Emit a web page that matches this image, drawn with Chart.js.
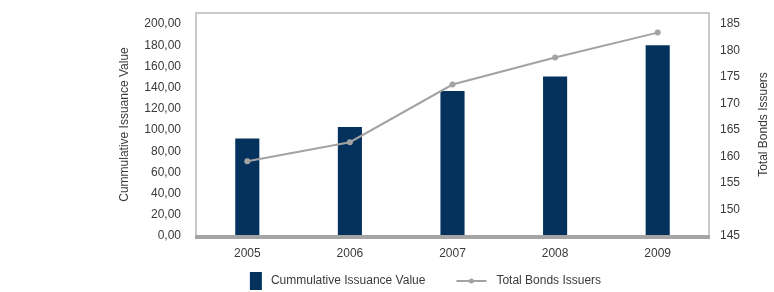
<!DOCTYPE html>
<html>
<head>
<meta charset="utf-8">
<script src="https://cdn.jsdelivr.net/npm/chart.js@4"></script>
<style>
  html, body { margin: 0; padding: 0; background: #fff; }
  #wrap { width: 774px; height: 292px; position: relative; }
</style>
</head>
<body>
<div id="wrap"><canvas id="chart"></canvas></div>
<script>
// chart data
const years = ['2005', '2006', '2007', '2008', '2009'];
const issuanceValue = [92, 102.8, 136.8, 150.5, 180];
const bondIssuers = [159.1, 162.7, 173.6, 178.7, 183.4];
const leftTicks = [0, 20, 40, 60, 80, 100, 120, 140, 160, 180, 200];
const rightTicks = [145, 150, 155, 160, 165, 170, 175, 180, 185];

const NAVY = '#04325d';
const GREY_LINE = '#a3a3a3';
const TEXT = '#3a3a3a';
const FONT = { family: "'Liberation Sans', Arial, sans-serif", size: 12 };
const BAR_LABEL = 'Cummulative Issuance Value';
const LINE_LABEL = 'Total Bonds Issuers';

Chart.defaults.font = FONT;
Chart.defaults.color = TEXT;

// frame round the plot area + thick base line
const framePlugin = {
  id: 'frame',
  beforeDatasetsDraw(chart) {
    const { ctx, chartArea: a } = chart;
    ctx.save();
    ctx.strokeStyle = '#c9c9c9';
    ctx.lineWidth = 2;
    ctx.strokeRect(a.left, a.top, a.right - a.left, a.bottom - a.top);
    ctx.restore();
  },
  afterDatasetsDraw(chart) {
    const { ctx, chartArea: a } = chart;
    ctx.save();
    ctx.strokeStyle = '#a5a5a5';
    ctx.lineWidth = 4;
    ctx.beginPath();
    ctx.moveTo(a.left - 1, a.bottom + 1);
    ctx.lineTo(a.right + 1, a.bottom + 1);
    ctx.stroke();
    ctx.restore();
  }
};

// right axis title (reads bottom-to-top) and legend below the axis
const extrasPlugin = {
  id: 'extras',
  afterDraw(chart) {
    const { ctx, chartArea: a } = chart;
    ctx.save();
    ctx.font = `${FONT.size}px ${FONT.family}`;
    ctx.fillStyle = TEXT;
    ctx.textAlign = 'center';
    ctx.textBaseline = 'middle';
    ctx.translate(764, (a.top + a.bottom) / 2);
    ctx.rotate(-Math.PI / 2);
    ctx.fillText(LINE_LABEL, 0, 0);
    ctx.restore();

    const y = 281;
    ctx.save();
    ctx.font = `${FONT.size}px ${FONT.family}`;
    ctx.textBaseline = 'middle';
    ctx.textAlign = 'left';
    const w1 = 12 + 9 + ctx.measureText(BAR_LABEL).width;
    const w2 = 30 + 10 + ctx.measureText(LINE_LABEL).width;
    const gap = 31;
    let x = (a.left + a.right) / 2 - 27 - (w1 + gap + w2) / 2;
    ctx.fillStyle = NAVY;
    ctx.fillRect(x, y - 9, 12, 18);
    ctx.fillStyle = TEXT;
    ctx.fillText(BAR_LABEL, x + 21, y);
    x += w1 + gap;
    ctx.strokeStyle = GREY_LINE;
    ctx.lineWidth = 2;
    ctx.beginPath();
    ctx.moveTo(x, y);
    ctx.lineTo(x + 30, y);
    ctx.stroke();
    ctx.fillStyle = GREY_LINE;
    ctx.beginPath();
    ctx.arc(x + 15, y, 2.5, 0, Math.PI * 2);
    ctx.fill();
    ctx.fillStyle = TEXT;
    ctx.fillText(LINE_LABEL, x + 40, y);
    ctx.restore();
  }
};

const fmtComma = v => v.toFixed(2).replace('.', ',');

new Chart(document.getElementById('chart'), {
  data: {
    labels: years,
    datasets: [
      {
        type: 'line',
        label: LINE_LABEL,
        data: bondIssuers,
        yAxisID: 'y1',
        borderColor: GREY_LINE,
        backgroundColor: GREY_LINE,
        borderWidth: 2,
        pointRadius: 3,
        pointBackgroundColor: GREY_LINE,
        pointBorderWidth: 0,
        tension: 0,
        order: 0
      },
      {
        type: 'bar',
        label: BAR_LABEL,
        data: issuanceValue,
        yAxisID: 'y',
        backgroundColor: NAVY,
        barPercentage: 0.235,
        categoryPercentage: 1,
        order: 1
      }
    ]
  },
  options: {
    responsive: true,
    maintainAspectRatio: false,
    animation: false,
    layout: { padding: { left: 113, right: 0, top: 13, bottom: 28 } },
    plugins: { legend: { display: false }, tooltip: { enabled: false } },
    scales: {
      x: {
        grid: { display: false, drawTicks: false },
        border: { display: false },
        ticks: { padding: 10, font: FONT, color: TEXT },
        afterFit(s) { s.height = 28; }
      },
      y: {
        position: 'left',
        min: 0,
        max: 210.4,
        grid: { display: false, drawTicks: false },
        border: { display: false },
        afterBuildTicks(s) { s.ticks = leftTicks.map(v => ({ value: v })); },
        ticks: { padding: 15, callback: v => fmtComma(v) },
        title: { display: true, text: BAR_LABEL, font: FONT, color: TEXT, padding: { top: 4, bottom: 4 } },
        afterFit(s) { s.width = 83; s.paddingTop = 0; s.paddingBottom = 0; }
      },
      y1: {
        position: 'right',
        min: 145,
        max: 187.1,
        grid: { display: false, drawTicks: false },
        border: { display: false },
        afterBuildTicks(s) { s.ticks = rightTicks.map(v => ({ value: v })); },
        ticks: { padding: 11, callback: v => String(v) },
        afterFit(s) { s.width = 65; s.paddingTop = 0; s.paddingBottom = 0; }
      }
    }
  },
  plugins: [framePlugin, extrasPlugin]
});
</script>
</body>
</html>
